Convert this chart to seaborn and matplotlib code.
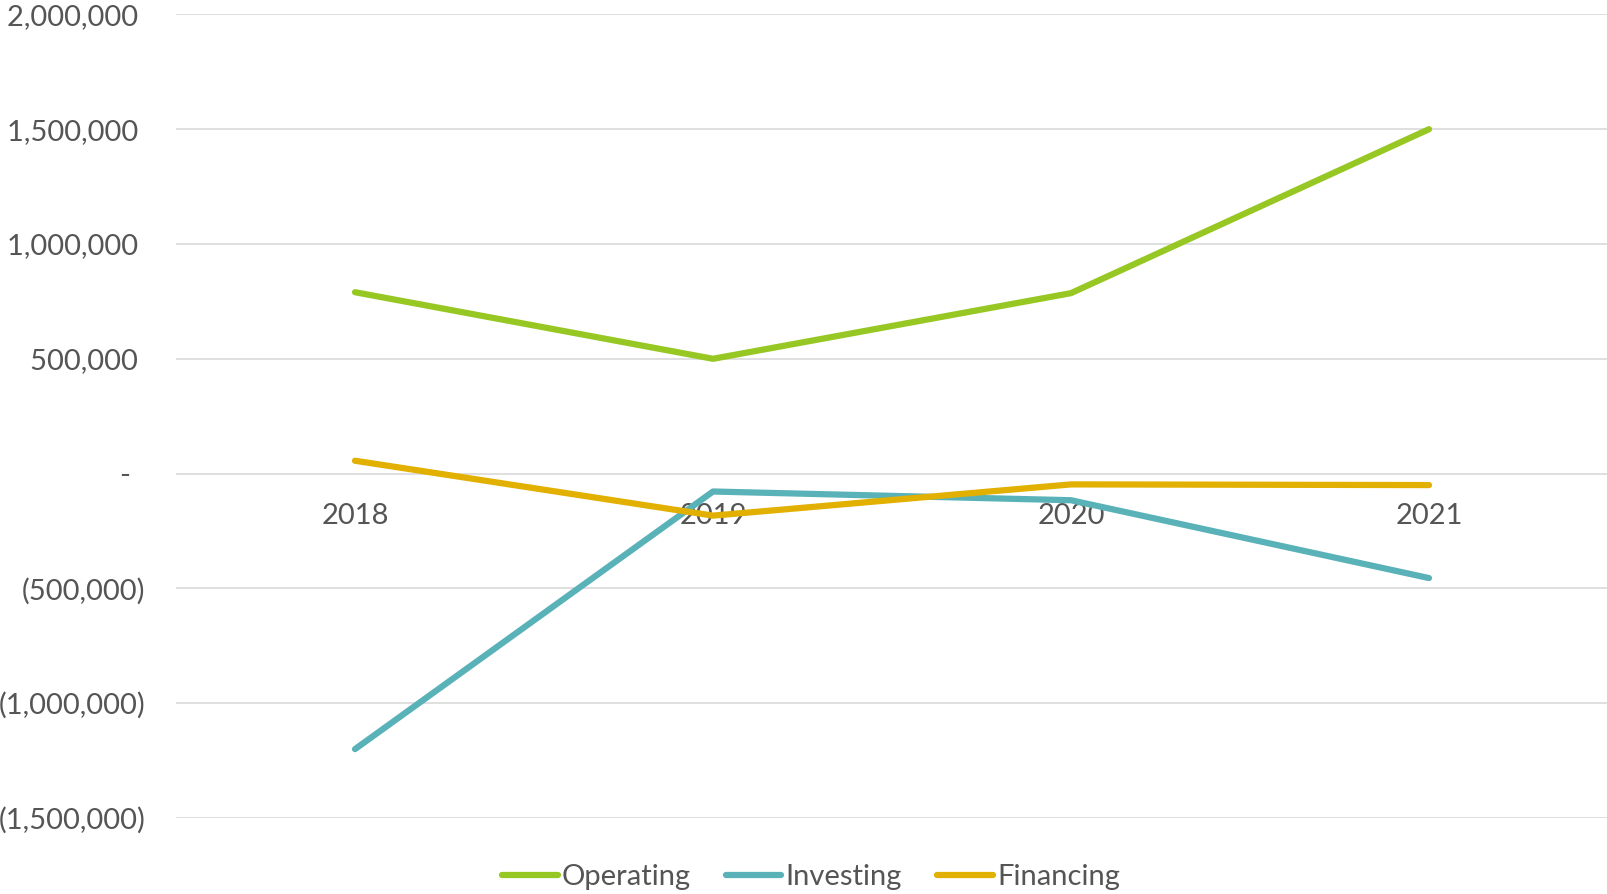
import pandas as pd
import seaborn as sns
import matplotlib.pyplot as plt
from matplotlib.ticker import FuncFormatter

# values
years = ["2018", "2019", "2020", "2021"]
operating = [790000, 500000, 786000, 1500000]
investing = [-1200000, -78000, -116000, -455000]
financing = [56000, -183000, -47000, -50000]

series_names = ["Operating", "Investing", "Financing"]
colors = ["#97C723", "#5AB2B9", "#E2B000"]

df = pd.DataFrame({
    "Year": years * 3,
    "Value": operating + investing + financing,
    "Flow": [n for n in series_names for _ in years],
})


def fmt(v, pos):
    if abs(v) < 1:
        return "-  "
    if v < 0:
        return f"({abs(v):,.0f})"
    return f"{v:,.0f} "


def main():
    sns.set_style("white")
    plt.rcParams["font.family"] = ["Lato", "DejaVu Sans"]
    text_color = "#555555"

    fig = plt.figure(figsize=(16.08, 8.94), dpi=100)
    ax = fig.add_axes([176 / 1608, 1 - 818 / 894, 1432 / 1608, (818 - 14.4) / 894])

    sns.lineplot(data=df, x="Year", y="Value", hue="Flow", palette=colors,
                 linewidth=4.5, ax=ax, sort=False, legend=True)
    for ln in ax.lines:
        ln.set_solid_capstyle("round")
        ln.set_solid_joinstyle("round")
        ln.set_clip_on(False)

    ax.set_xlim(-0.5, 3.5)
    ax.set_ylim(-1500000, 2000000)
    ax.set_yticks(range(-1500000, 2000001, 500000))
    ax.yaxis.set_major_formatter(FuncFormatter(fmt))
    ax.grid(axis="y", color="#D9D9D9", linewidth=1.2)
    ax.set_axisbelow(True)
    for s in ["top", "right", "left"]:
        ax.spines[s].set_visible(False)
    ax.spines["bottom"].set_position(("data", 0))
    ax.spines["bottom"].set_visible(False)
    ax.tick_params(axis="y", length=0, pad=22, labelsize=21, labelcolor=text_color)
    ax.tick_params(axis="x", length=0, pad=21, labelsize=21, labelcolor=text_color)
    ax.set_xlabel("")
    ax.set_ylabel("")

    handles, labels = ax.get_legend_handles_labels()
    ax.get_legend().remove()
    fig.legend(handles, labels, loc="center", bbox_to_anchor=(811 / 1608, 1 - 877 / 894),
               ncol=3, frameon=False, fontsize=21, handlelength=1.9, handletextpad=0.15,
               columnspacing=1.2, labelcolor=text_color)

    fig.savefig("out.png", dpi=100)


if __name__ == "__main__":
    main()
